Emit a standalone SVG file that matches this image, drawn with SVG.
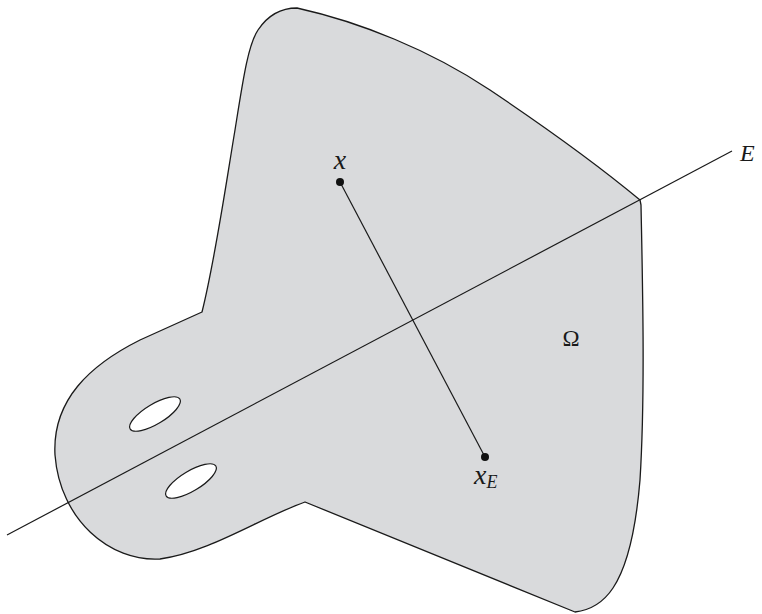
<svg xmlns="http://www.w3.org/2000/svg" width="762" height="614" viewBox="0 0 762 614">
<style>
.outline{fill:#d9dadc;stroke:#1a1a1a;stroke-width:1.3;stroke-linejoin:round}
.hole{fill:#ffffff;stroke:#1a1a1a;stroke-width:1.2}
.ln{stroke:#1a1a1a;stroke-width:1.2;fill:none}
.pt{fill:#111}
.lbl{font-family:"Liberation Serif",serif;font-style:italic;fill:#1a1a1a}
.up{font-family:"Liberation Serif",serif;fill:#1a1a1a}
</style>
<rect width="762" height="614" fill="#ffffff"/>
<g id="omega-region">
<path class="outline" d="M297,8 C360,22 430,50 490,90 C560,137 610,175 640,200 L641,205 C643,300 645,400 640,480 C635,540 625,570 613,588 C605,600 592,610 575,612 L305,502 C260,518 210,552 160,559 C110,562 60,520 55,455 C52,400 90,365 140,340 L202,312 C215,260 225,190 235,130 C243,80 248,45 258,30 C268,15 282,8 297,8 Z"/>
<ellipse class="hole" cx="155" cy="414" rx="29" ry="10" transform="rotate(-31 155 414)"/>
<ellipse class="hole" cx="191" cy="481" rx="29" ry="10" transform="rotate(-31 191 481)"/>
<text class="up" x="571" y="346" font-size="23" text-anchor="middle">Ω</text>
</g>
<g id="connectors">
<line id="line-E" class="ln" x1="7" y1="535" x2="732" y2="151"/>
<line id="segment" class="ln" x1="340" y1="182" x2="485" y2="457"/>
</g>
<g id="label-E">
<text class="lbl" x="740" y="161" font-size="24">E</text>
</g>
<g id="point-x">
<circle class="pt" cx="340" cy="182" r="4"/>
<text class="lbl" x="340" y="169" font-size="28" text-anchor="middle">x</text>
</g>
<g id="point-xE">
<circle class="pt" cx="485" cy="457" r="4"/>
<text class="lbl" x="474" y="484" font-size="28">x<tspan font-size="18" dy="4">E</tspan></text>
</g>
</svg>
